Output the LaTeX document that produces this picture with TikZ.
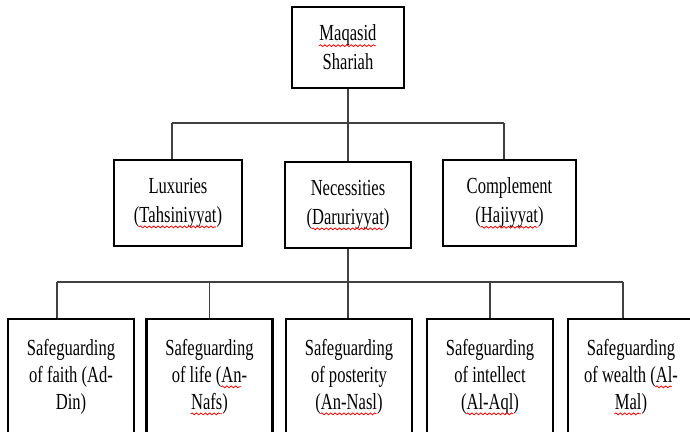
\documentclass[tikz,border=0pt]{standalone}
\usepackage{fontspec}
\setmainfont[FakeStretch=0.72]{Liberation Serif}
\usepackage{tikz}
\usetikzlibrary{decorations.pathmorphing}
\newlength{\spellw}
\newcommand{\spell}[1]{\settowidth{\spellw}{#1}#1\llap{\tikz[baseline=0pt,x=1pt,y=1pt]\draw[red,line width=0.4pt,
    decorate,decoration={snake,amplitude=0.45pt,segment length=2.2pt}] (0pt,-2.4pt) -- (\spellw,-2.4pt);}}

\begin{document}
\begin{tikzpicture}[x=0.5pt,y=-0.5pt]
                \useasboundingbox (0,0) rectangle (690,432);
                \clip (0,0) rectangle (690,432);
                \begin{scope}[every node/.style={rectangle,draw,line width=1.4pt,align=center,inner sep=1pt,
                    font=\fontsize{11.5}{14.5}\selectfont}]
                \node[minimum width=56pt,minimum height=40.5pt] (maqasid) at (348,47.5) {\spell{Maqasid}\\Shariah};
                \node[minimum width=64pt,minimum height=43pt] (lux) at (178,203) {Luxuries\\(\spell{Tahsiniyyat})};
                \node[minimum width=63pt,minimum height=43pt] (necess) at (348,205) {Necessities\\(\spell{Daruriyyat})};
                \node[minimum width=66.5pt,minimum height=43pt] (compl) at (509.5,203) {Complement\\(\spell{Hajiyyat})};
                \end{scope}
                
                \begin{scope}[every node/.style={rectangle,draw,line width=1.4pt,align=center,inner sep=1pt,
                    minimum width=63pt,minimum height=58pt,font=\fontsize{11.5}{13.5}\selectfont}]
                \node (faith) at (71,377) {Safeguarding\\of faith (Ad-\\Din)};
                \node (life) at (209.5,377) {Safeguarding\\of life (\spell{An}-\\\spell{Nafs})};
                \node (posterity) at (349,377) {Safeguarding\\of posterity\\(\spell{An-Nasl})};
                \node (intellect) at (490,377) {Safeguarding\\of intellect\\(\spell{Al-Aql})};
                \node (wealth) at (631,377) {Safeguarding\\of wealth (\spell{Al}-\\\spell{Mal})};
                \end{scope}
                
                \coordinate (busA) at (172,123);
                \coordinate (busB) at (504,123);
                \coordinate (busC) at (57,282);
                \coordinate (busD) at (623,282);
                
                \path[-,line width=0.8pt,draw=black!75]
                (busA) edge (busB)
                (maqasid) edge (necess)
                (busA) edge (busA |- lux.north)
                (busB) edge (busB |- compl.north)
                (busC) edge (busD)
                (necess) edge (necess |- posterity.north)
                (busC) edge (busC |- faith.north)
                (life |- busC) edge (life)
                (intellect |- busC) edge (intellect)
                (busD) edge (busD |- wealth.north);
                \end{tikzpicture}
\end{document}
